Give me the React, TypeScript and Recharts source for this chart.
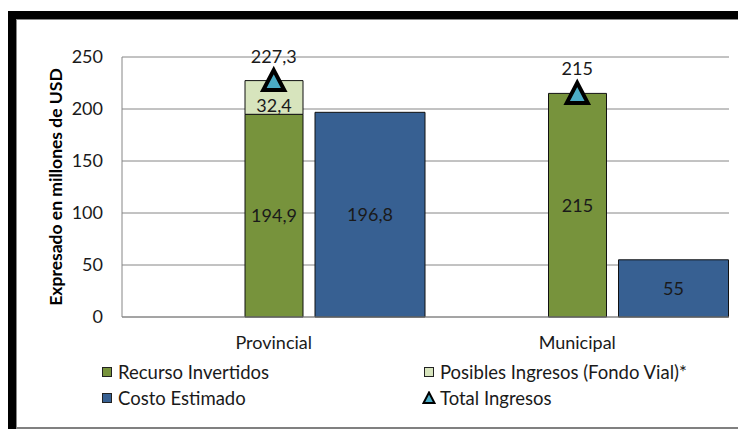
import {
  ComposedChart, Bar, Line, XAxis, YAxis,
  CartesianGrid, Legend, LabelList
} from "recharts"

const CATEGORIES = ["Provincial", "Municipal"]
const RECURSO_INVERTIDOS = [194.9, 215]
const POSIBLES_INGRESOS = [32.4, null]
const COSTO_ESTIMADO = [196.8, 55]
const TOTAL_INGRESOS = [227.3, 215]
const Y_TICKS = [0, 50, 100, 150, 200, 250]

const COLORS = {
  recurso: "#77933C",
  posibles: "#D7E4BD",
  costo: "#376092",
  total: "#4BACC6",
}

const LEGEND_ITEMS = [
  { label: "Recurso Invertidos", color: COLORS.recurso, shape: "square", col: 0, row: 0 },
  { label: "Posibles Ingresos (Fondo Vial)*", color: COLORS.posibles, shape: "square", col: 1, row: 0 },
  { label: "Costo Estimado", color: COLORS.costo, shape: "square", col: 0, row: 1 },
  { label: "Total Ingresos", color: COLORS.total, shape: "triangle", col: 1, row: 1 },
]

const FONT = "Lato, 'Open Sans', sans-serif"

const data = CATEGORIES.map((name, i) => ({
  name,
  hueco: 0,
  recurso: RECURSO_INVERTIDOS[i],
  posibles: POSIBLES_INGRESOS[i],
  costo: COSTO_ESTIMADO[i],
  total: TOTAL_INGRESOS[i],
}))

const fmt = (v: any) => (v == null || v === 0 ? "" : String(v).replace(".", ","))

function Triangle(props: any) {
  const { cx, cy } = props
  if (cx == null || cy == null) return null
  const h = 19
  const w = 21
  return (
    <path
      d={`M${cx},${cy - h / 2 - 1} L${cx + w / 2},${cy + h / 2} L${cx - w / 2},${cy + h / 2} Z`}
      fill={COLORS.total}
      stroke="#000"
      strokeWidth={4}
      strokeLinejoin="miter"
    />
  )
}

function LegendBox() {
  const colX = [92, 414]
  const rowY = [15, 41]
  return (
    <div style={{ position: "relative", width: 738, height: 72, fontFamily: FONT, fontSize: 18.5, color: "#1a1a1a" }}>
      {LEGEND_ITEMS.map((it) => (
        <div
          key={it.label}
          style={{
            position: "absolute",
            left: colX[it.col],
            top: rowY[it.row] - 12,
            height: 24,
            display: "flex",
            alignItems: "center",
            whiteSpace: "nowrap",
          }}
        >
          {it.shape === "square" ? (
            <svg width={14} height={14} style={{ marginRight: 4 }}>
              <rect x={2.5} y={2.5} width={9} height={9} fill={it.color} stroke="#222" strokeWidth={1} />
            </svg>
          ) : (
            <svg width={14} height={14} style={{ marginRight: 4 }}>
              <path d="M7,1.5 L12.5,12 L1.5,12 Z" fill={it.color} stroke="#000" strokeWidth={2} />
            </svg>
          )}
          <span>{it.label}</span>
        </div>
      ))}
    </div>
  )
}

export default function App() {
  return (
    <div style={{ position: "relative", width: 738, height: 421 }}>
      <div
        style={{
          position: "absolute",
          left: 0,
          top: 3,
          width: 738,
          height: 418,
          boxSizing: "border-box",
          borderTop: "8px solid #000",
          borderLeft: "8px solid #000",
        }}
      >
        <div
          style={{
            position: "absolute",
            inset: 0,
            borderTop: "1px solid #888",
            borderLeft: "1px solid #888",
            borderBottom: "2px solid #808080",
          }}
        />
      </div>
      <div style={{ position: "absolute", left: 0, top: 0 }}>
        <ComposedChart
          width={738}
          height={421}
          data={data}
          margin={{ top: 49, right: 17, left: 0, bottom: 0 }}
          barGap={12}
          barCategoryGap={0}
        >
          <CartesianGrid vertical={false} stroke="#868686" strokeWidth={1} />
          <XAxis
            dataKey="name"
            height={40}
            axisLine={{ stroke: "#868686" }}
            tickLine={false}
            tickMargin={13}
            tick={{ fill: "#1a1a1a", fontSize: 18, fontFamily: FONT }}
          />
          <YAxis
            width={114}
            domain={[0, 250]}
            ticks={Y_TICKS}
            axisLine={{ stroke: "#868686" }}
            tickLine={false}
            tickMargin={13}
            tick={{ fill: "#1a1a1a", fontSize: 18, fontFamily: FONT }}
            label={{
              value: "Expresado en millones de USD",
              angle: -90,
              position: "insideLeft",
              offset: 48,
              style: { textAnchor: "middle", fontWeight: "bold", fontSize: 17.5, fontFamily: FONT, fill: "#000" },
            }}
          />
          <Legend verticalAlign="bottom" content={() => <LegendBox />} />
          <Bar dataKey="hueco" stackId="s1" barSize={110} fill="none" isAnimationActive={false} legendType="none" />
          <Bar dataKey="recurso" stackId="s2" barSize={58} fill={COLORS.recurso} stroke="#111" strokeWidth={1} isAnimationActive={false}>
            <LabelList dataKey="recurso" position="center" formatter={fmt} style={{ fill: "#1a1a1a", fontSize: 18, fontFamily: FONT }} />
          </Bar>
          <Bar dataKey="posibles" stackId="s2" barSize={58} fill={COLORS.posibles} stroke="#111" strokeWidth={1} isAnimationActive={false}>
            <LabelList dataKey="posibles" position="insideBottom" offset={2} formatter={fmt} style={{ fill: "#1a1a1a", fontSize: 18, fontFamily: FONT }} />
          </Bar>
          <Bar dataKey="costo" stackId="s3" barSize={110} fill={COLORS.costo} stroke="#111" strokeWidth={1} isAnimationActive={false}>
            <LabelList dataKey="costo" position="center" formatter={fmt} style={{ fill: "#1a1a1a", fontSize: 18, fontFamily: FONT }} />
          </Bar>
          <Line
            dataKey="total"
            stroke="none"
            dot={<Triangle />}
            activeDot={false}
            isAnimationActive={false}
          >
            <LabelList dataKey="total" position="top" offset={18} formatter={fmt} style={{ fill: "#1a1a1a", fontSize: 18, fontFamily: FONT }} />
          </Line>
        </ComposedChart>
      </div>
    </div>
  )
}
